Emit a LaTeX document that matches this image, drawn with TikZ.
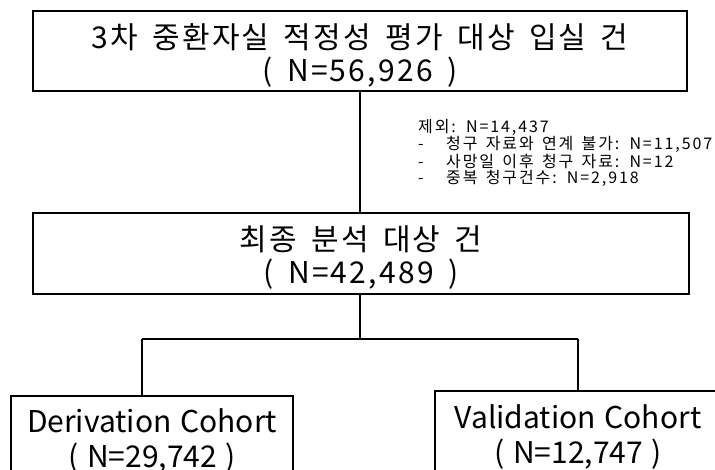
\documentclass[tikz,border=0pt]{standalone}
\usepackage{fontspec}
\newfontfamily\krfont[LetterSpace=7.5,WordSpace=1.6]{Noto Sans CJK KR}
\newfontfamily\krsmall[LetterSpace=12,WordSpace=1.5]{Noto Sans CJK KR}
\newfontfamily\enfont[LetterSpace=0,WordSpace=1.3]{Noto Sans CJK KR}
\newcommand{\topstrut}{\rule{0pt}{33pt}}
\begin{document}
\begin{tikzpicture}[x=1pt,y=-1pt,
  box/.style={draw=black, line width=2pt, fill=white, align=center, inner sep=0pt},
  bigtext/.style={font={\krfont\fontsize{30}{33}\selectfont}},
  entext/.style={font={\enfont\fontsize{30}{35}\selectfont}},
  conn/.style={draw=black, line width=1.6pt},
  note/.style={align=left, anchor=north west, inner sep=0pt, font={\krsmall\fontsize{16}{16}\selectfont}}]
\useasboundingbox (0,0) rectangle (715,470);
\clip (0,0) rectangle (715,470);
\node[box, bigtext, minimum width=654pt, minimum height=80pt] (top) at (360,51) {\topstrut 3차 중환자실 적정성 평가 대상 입실 건\\( N=56,926 )};
\node[box, bigtext, minimum width=656pt, minimum height=81pt] (mid) at (361,253.5) {\topstrut 최종 분석 대상 건\\( N=42,489 )};
\node[box, entext, minimum width=282pt, minimum height=90pt] (der) at (152,441) {Derivation Cohort\\( N=29,742 )};
\node[box, entext, minimum width=286pt, minimum height=92pt] (val) at (578,437) {Validation Cohort\\( N=12,747 )};
\node[note] (excl) at (418,119) {제외: N=14,437\\\makebox[28pt][l]{-}청구 자료와 연계 불가: N=11,507\\\makebox[28pt][l]{-}사망일 이후 청구 자료: N=12\\\makebox[28pt][l]{-}중복 청구건수: N=2,918};
\coordinate (jn) at (360,339);
\coordinate (bl) at (142,339);
\coordinate (br) at (578,339);
\draw[conn] (top.south) -- (top.south |- mid.north);
\draw[conn] (mid.south -| top.south) -- (jn);
\draw[conn] (bl) -- (br);
\draw[conn] (bl) -- (bl |- der.north);
\draw[conn] (br) -- (val.north);
\end{tikzpicture}
\end{document}
